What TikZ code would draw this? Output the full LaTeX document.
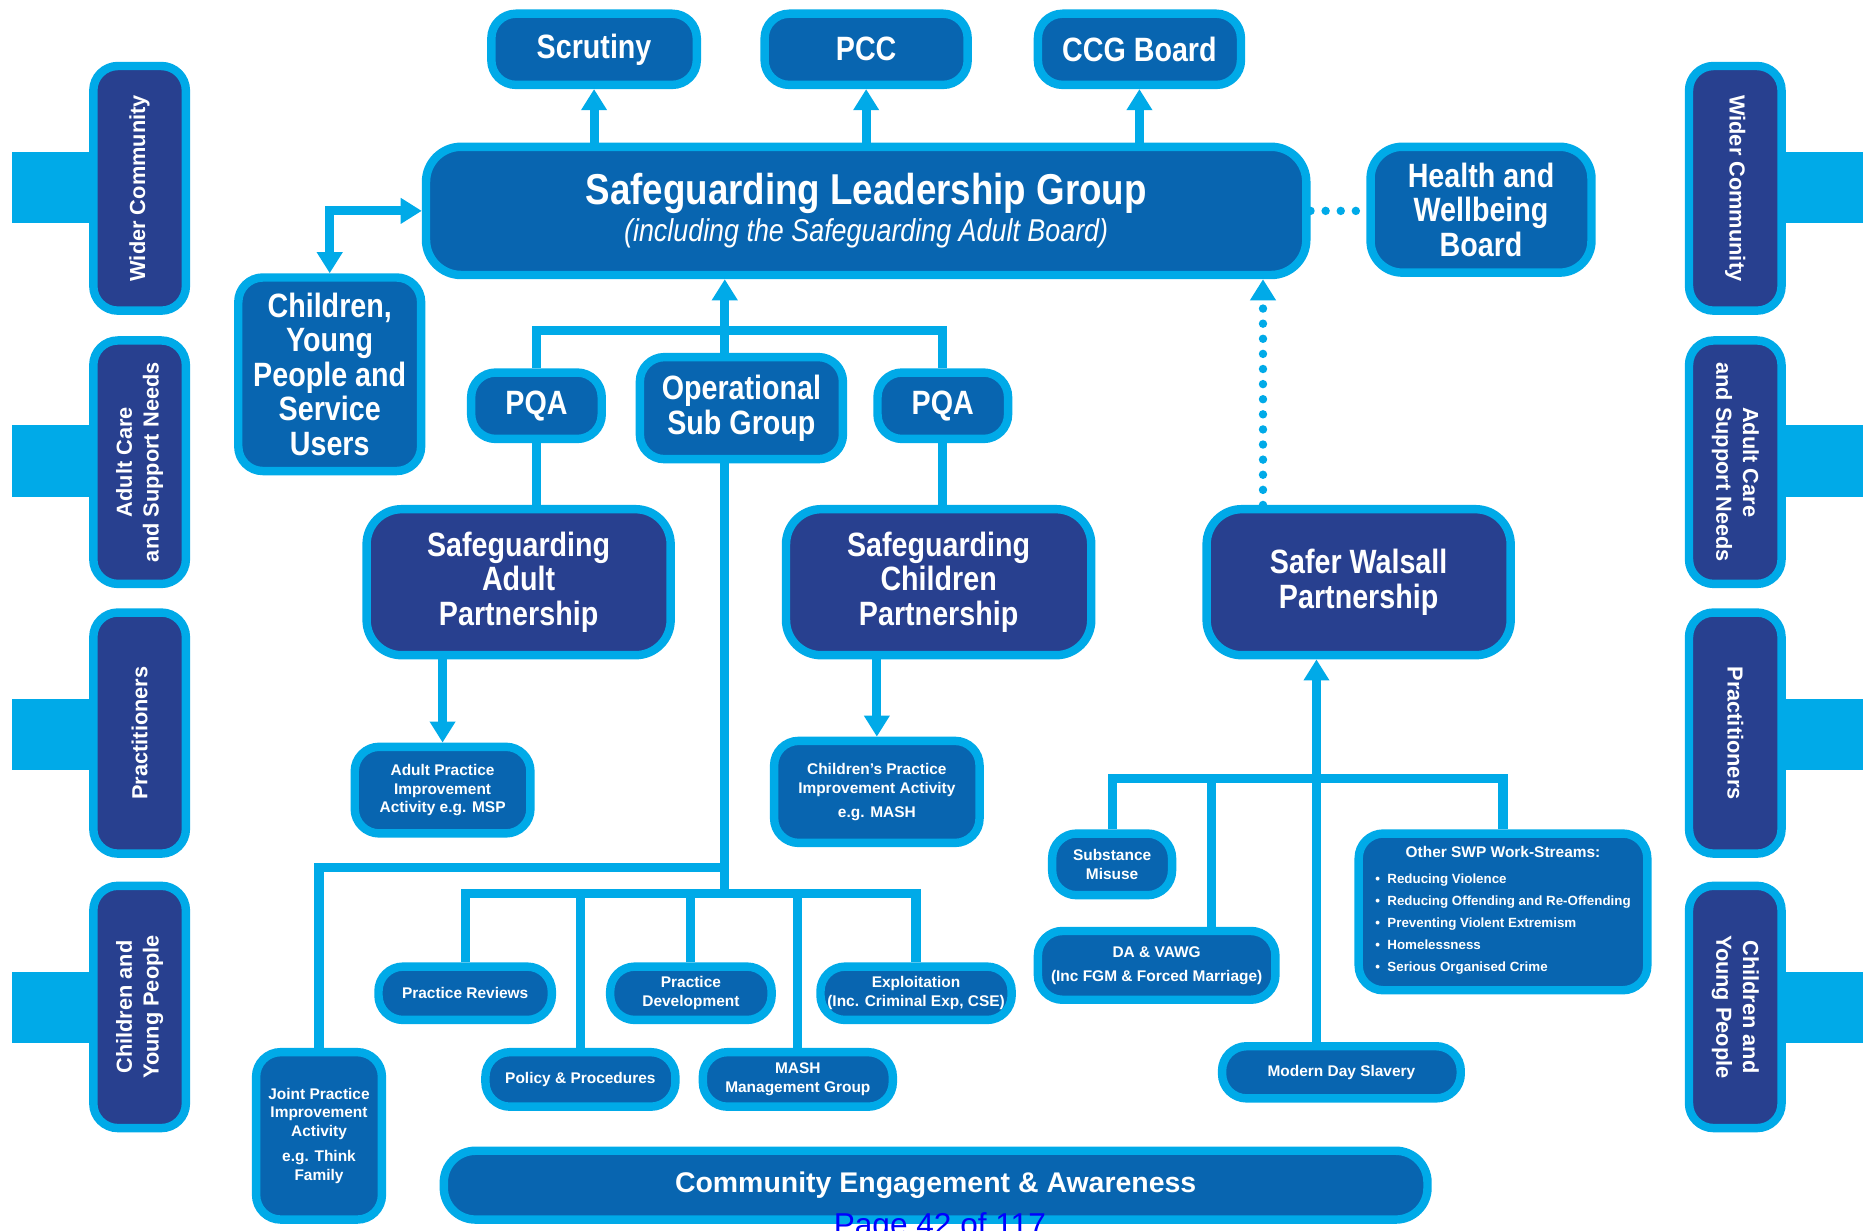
\documentclass[tikz,border=0pt]{standalone}
\usepackage{fontspec}
\setmainfont{Liberation Sans}
\newfontfamily\hdfont[FakeStretch=0.85]{Liberation Sans}
\usetikzlibrary{arrows.meta}
\definecolor{lineblue}{RGB}{0,170,232}
\definecolor{boxblue}{RGB}{8,101,176}
\definecolor{navyblue}{RGB}{40,64,143}
\tikzset{
  bx/.style={draw=lineblue, line width=2.4pt, rounded corners=7pt, text=white, align=center, inner sep=0pt},
  midbox/.style={bx, fill=boxblue},
  navybox/.style={bx, fill=navyblue},
  sz/.style 2 args={minimum width=#1*0.01188cm-2.4pt, minimum height=#2*0.01188cm-2.4pt},
  conn/.style={draw=lineblue, line width=2.6pt},
  arr/.style={conn, -{Triangle[width=7pt,length=6pt]}},
  arrtwo/.style={conn, {Triangle[width=7pt,length=6pt]}-{Triangle[width=7pt,length=6pt]}},
  dots/.style={draw=lineblue, line width=2.4pt, line cap=round, dash pattern=on 0pt off 4.3pt},
  bigfont/.style={font=\hdfont\bfseries\fontsize{9.6}{9.8}\selectfont},
  smallfont/.style={font=\bfseries\fontsize{4.4}{5.3}\selectfont},
  sidefont/.style={font=\bfseries\fontsize{6.2}{7.6}\selectfont},
}

\begin{document}
\begin{tikzpicture}[x=0.01188cm, y=-0.01188cm]
\useasboundingbox (0,0) rectangle (1568,1036);

% side bars
\foreach \yy in {158,388,618,848} {
  \fill[lineblue] (10,\yy-30) rectangle (78,\yy+30);
  \fill[lineblue] (1500,\yy-30) rectangle (1568,\yy+30);
}

% side boxes
\node[navybox, sz={213}{85}, sidefont, rotate=90] (lwc) at (117.5,158.5) {Wider Community};
\node[navybox, sz={212}{85}, sidefont, rotate=90] (lac) at (117.5,389) {Adult Care\\and Support Needs};
\node[navybox, sz={210}{85}, sidefont, rotate=90] (lpr) at (117.5,617) {Practitioners};
\node[navybox, sz={211}{85}, sidefont, rotate=90] (lcy) at (117.5,847.5) {Children and\\Young People};
\node[navybox, sz={213}{85}, sidefont, rotate=-90] (rwc) at (1460.5,158.5) {Wider Community};
\node[navybox, sz={212}{85}, sidefont, rotate=-90] (rac) at (1460.5,389) {Adult Care\\and Support Needs};
\node[navybox, sz={210}{85}, sidefont, rotate=-90] (rpr) at (1460.5,617) {Practitioners};
\node[navybox, sz={211}{85}, sidefont, rotate=-90] (rcy) at (1460.5,847.5) {Children and\\Young People};

% top row
\node[midbox, sz={180}{67}, bigfont] (scr) at (500,41.5) {Scrutiny};
\node[midbox, sz={178}{67}, bigfont] (pcc) at (729,41.5) {PCC};
\node[midbox, sz={178}{67}, bigfont] (ccg) at (959,41.5) {CCG Board};

\node[midbox, sz={748}{115}, rounded corners=10pt, font=\hdfont\fontsize{9}{10.5}\selectfont] (slg) at (729,177.5)
  {{\bfseries\fontsize{12.3}{13}\selectfont Safeguarding Leadership Group}\\{\itshape (including the Safeguarding Adult Board)}};
\node[midbox, sz={193}{113}, bigfont, rounded corners=9pt] (hwb) at (1246.5,176.5) {Health and\\Wellbeing\\Board};
\node[midbox, sz={161}{170}, bigfont] (cyp) at (277.5,315) {Children,\\Young\\People and\\Service\\Users};

\node[midbox, sz={117}{63}, bigfont] (pqal) at (451.5,341.5) {PQA};
\node[midbox, sz={178}{93}, bigfont] (op) at (624,343.5) {Operational\\Sub Group};
\node[midbox, sz={117}{63}, bigfont] (pqar) at (793.5,341.5) {PQA};

% partnerships
\node[navybox, sz={263}{130}, bigfont, rounded corners=10pt] (sap) at (436.5,490) {Safeguarding\\Adult\\Partnership};
\node[navybox, sz={264}{130}, bigfont, rounded corners=10pt] (scp) at (790,490) {Safeguarding\\Children\\Partnership};
\node[navybox, sz={263}{130}, bigfont, rounded corners=10pt] (swp) at (1143.5,490) {Safer Walsall\\Partnership};

% sub groups
\node[midbox, sz={155}{80}, smallfont] (api) at (372.5,665) {Adult Practice\\Improvement\\Activity e.g. MSP};
\node[midbox, sz={180}{93}, smallfont] (cpi) at (738,666.5) {Children’s Practice\\Improvement Activity\\[1.5pt]e.g. MASH};
\node[midbox, sz={153}{52}, smallfont] (prv) at (391.5,836) {Practice Reviews};
\node[midbox, sz={143}{52}, smallfont] (pdv) at (581.5,836) {Practice\\Development};
\node[midbox, sz={168}{52}, smallfont] (exp) at (771,836) {Exploitation\\(Inc. Criminal Exp, CSE)};
\node[midbox, sz={167}{53}, smallfont] (pol) at (488.5,908.5) {Policy \& Procedures};
\node[midbox, sz={167}{53}, smallfont] (msh) at (671.5,908.5) {MASH\\Management Group};
\node[midbox, sz={113}{148}, smallfont] (jpi) at (268.5,956) {Joint Practice\\Improvement\\Activity\\[2pt]e.g. Think\\Family};
\node[midbox, sz={835}{65}, rounded corners=9pt, font=\bfseries\fontsize{8.1}{9}\selectfont] (cea) at (787.5,997.5) {Community Engagement \& Awareness};

\node[midbox, sz={108}{59}, smallfont] (sub) at (936,727.5) {Substance\\Misuse};
\node[midbox, sz={207}{65}, smallfont] (dav) at (973.5,812.5) {DA \& VAWG\\[1.5pt](Inc FGM \& Forced Marriage)};
\node[midbox, sz={250}{139}, smallfont] (oth) at (1265,767.5)
  {Other SWP Work-Streams:\\[2pt]
   {\fontsize{3.8}{6.25}\selectfont\begin{tabular}{@{}l@{}}
   \textbullet\ \ Reducing Violence\\
   \textbullet\ \ Reducing Offending and Re-Offending\\
   \textbullet\ \ Preventing Violent Extremism\\
   \textbullet\ \ Homelessness\\
   \textbullet\ \ Serious Organised Crime
   \end{tabular}}};
\node[midbox, sz={208}{51}, smallfont] (mds) at (1129,902.5) {Modern Day Slavery};

% connectors at the top
\foreach \b in {scr,pcc,ccg} \draw[arr] (slg.north -| \b.south) -- (\b.south);
\draw[arrtwo] (cyp.north) |- (slg.west);
\draw[dots] (slg.east) -- (slg.east -| hwb.west);

\coordinate (hub) at (610,278);
\draw[conn] (pqal.north) |- (hub) -| (pqar.north);
\draw[arr] (hub |- op.north) -- (hub |- slg.south);
\draw[conn] (pqal.south) -- (pqal.south |- sap.north);
\draw[conn] (pqar.south) -- (pqar.south |- scp.north);
\draw[arr] (api.north |- sap.south) -- (api.north);
\draw[arr] (cpi.north |- scp.south) -- (cpi.north);

% operational sub group branches
\coordinate (jn) at (610,730);
\coordinate (sg) at (610,752);
\draw[conn] (hub |- op.south) -- (sg);
\draw[conn] (jn) -| (jpi.north);
\draw[conn] (prv.north) |- (sg) -| (exp.north);
\foreach \b in {pdv,pol,msh} \draw[conn] (\b.north) -- (\b.north |- sg);

% safer walsall
\coordinate (sw) at (1108,655);
\coordinate (dk) at (1020,655);
\coordinate (dt) at (1063,0);
\draw[arr] (mds.north -| sw) -- (sw |- swp.south);
\draw[conn] (sub.north) |- (sw) -| (oth.north);
\draw[conn] (dk) -- (dk |- dav.north);
\draw[dots, -{Triangle[width=7pt,length=6pt]}] (dt |- swp.north) -- (dt |- slg.south);

\node[text=blue, inner sep=0pt, anchor=base, font=\fontsize{9}{10}\selectfont] (pg) at (791,1040) {Page 42 of 117};
\end{tikzpicture}
\end{document}
